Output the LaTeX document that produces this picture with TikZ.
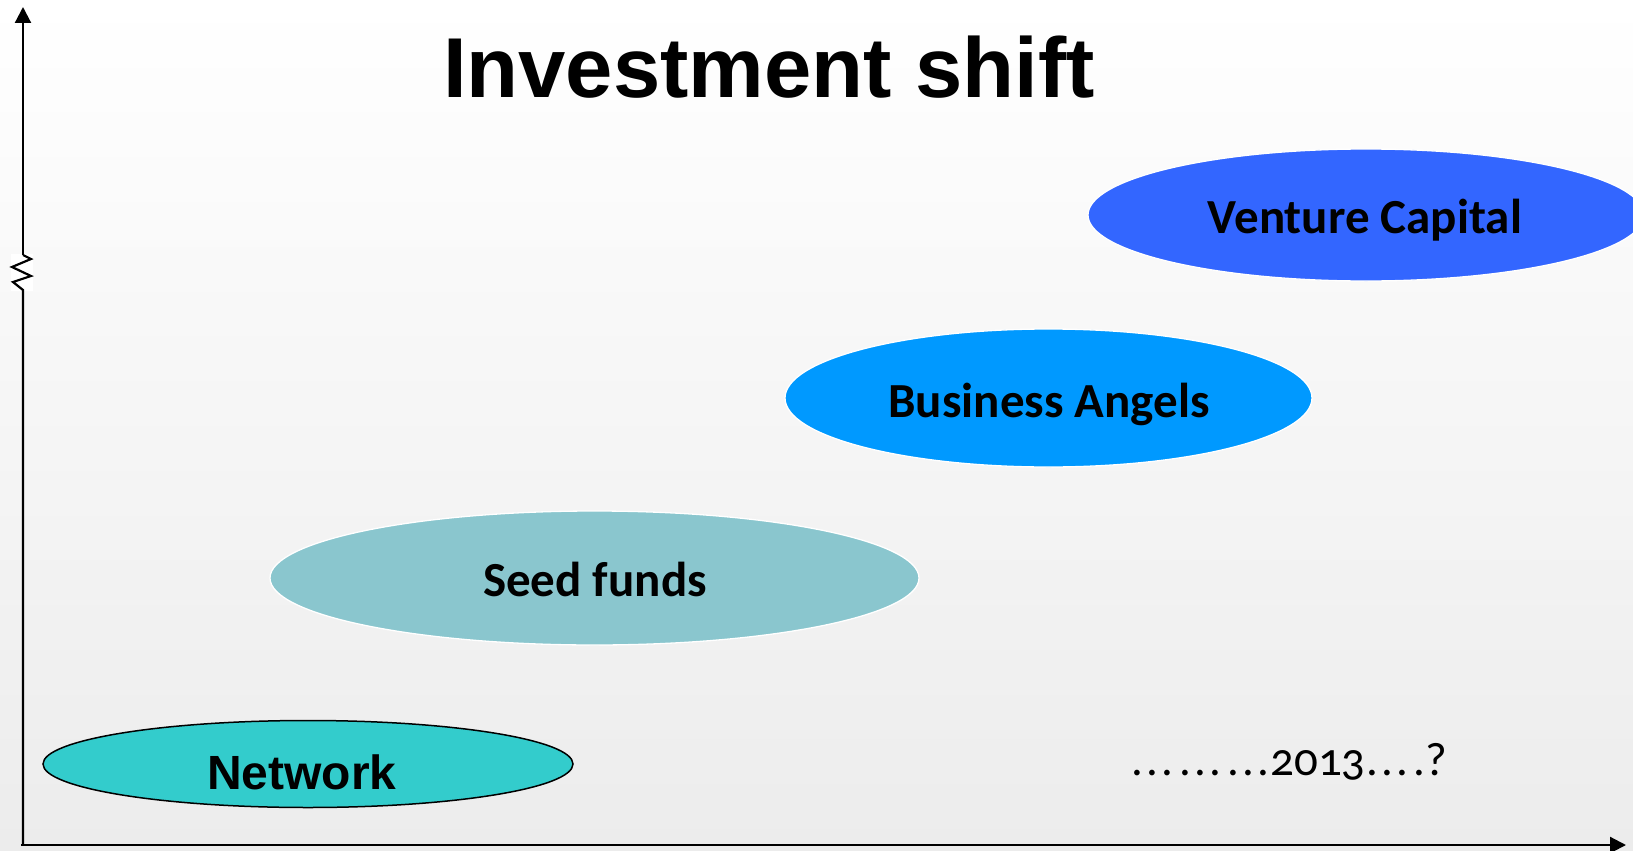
\documentclass[tikz,border=0pt]{standalone}
\usepackage{fontspec}
\setmainfont{Carlito}
\newfontfamily\arialfont{Liberation Sans}
\newfontfamily\oldnumfont[Numbers=OldStyle]{Carlito}
\usetikzlibrary{shapes.geometric,arrows.meta}
\definecolor{netfill}{HTML}{33CCCC}
\definecolor{seedfill}{HTML}{8AC6CE}
\definecolor{bafill}{HTML}{0099FF}
\definecolor{vcfill}{HTML}{3366FF}
\definecolor{bgbot}{HTML}{ECECEC}
\newcommand\tdot{.\kern3.2pt}
\begin{document}
\begin{tikzpicture}[x=1pt,y=-1pt,
  blob/.style={ellipse, inner sep=0pt, outer sep=0pt},
  whiteedge/.style={draw=white, line width=1.3pt},
  lbl/.style={inner sep=0pt, anchor=base, font=\bfseries\fontsize{49}{59}\selectfont},
  axisline/.style={line width=2.2pt, line join=miter},
  tip/.style={-{Triangle[length=16pt,width=16pt]}}]
\useasboundingbox (0,0) rectangle (1633,851);
\clip (0,0) rectangle (1633,851);
\shade[top color=white, bottom color=bgbot] (0,0) rectangle (1633,851);

% title
\node[inner sep=0pt, anchor=base, font=\arialfont\bfseries\fontsize{85}{100}\selectfont] (title) at (769,97) {Investment shift};

% ellipses
\node[blob, fill=netfill, draw=black, line width=1.5pt, minimum width=530pt, minimum height=87pt] (net) at (308,764) {};
\node[inner sep=0pt, anchor=base, font=\arialfont\bfseries\fontsize{48}{58}\selectfont] (nettxt) at (302,789) {Network};

\node[blob, fill=seedfill, whiteedge, minimum width=649pt, minimum height=134pt] (seed) at (594.5,578) {};
\node[lbl] (seedtxt) at (595,596) {Seed funds};

\node[blob, fill=bafill, whiteedge, minimum width=527pt, minimum height=138pt] (ba) at (1048.5,398) {};
\node[lbl] (batxt) at (1049,417) {Business Angels};

\node[blob, fill=vcfill, whiteedge, minimum width=556pt, minimum height=132pt] (vc) at (1366,215) {};
\node[lbl] (vctxt) at (1365,233) {Venture Capital};

% timeline text
\node[inner sep=0pt, anchor=base west, font=\oldnumfont\fontsize{47}{57}\selectfont] (when) at (1131,775)
  {\tdot\tdot\tdot\kern3pt\tdot\tdot\tdot\kern3pt\tdot\tdot.\kern1pt 2013\kern1pt\tdot\tdot\tdot\kern2pt.?};

% axes
\coordinate (origin) at (21,845);
\coordinate (xtip) at (1626,845);
\coordinate (ytip) at (23,7);
\coordinate (brklo) at (23,290);
\coordinate (brkhi) at (23,255);
\fill[white] (11,254) rectangle (33,291);
\draw[axisline, tip] (origin) -- (xtip);
\draw[axisline] (23,845) -- (brklo) -- (13,282) -- (31,276) -- (12,267) -- (31,259) -- (brkhi);
\draw[axisline, tip] (brkhi) -- (ytip);
\end{tikzpicture}
\end{document}
